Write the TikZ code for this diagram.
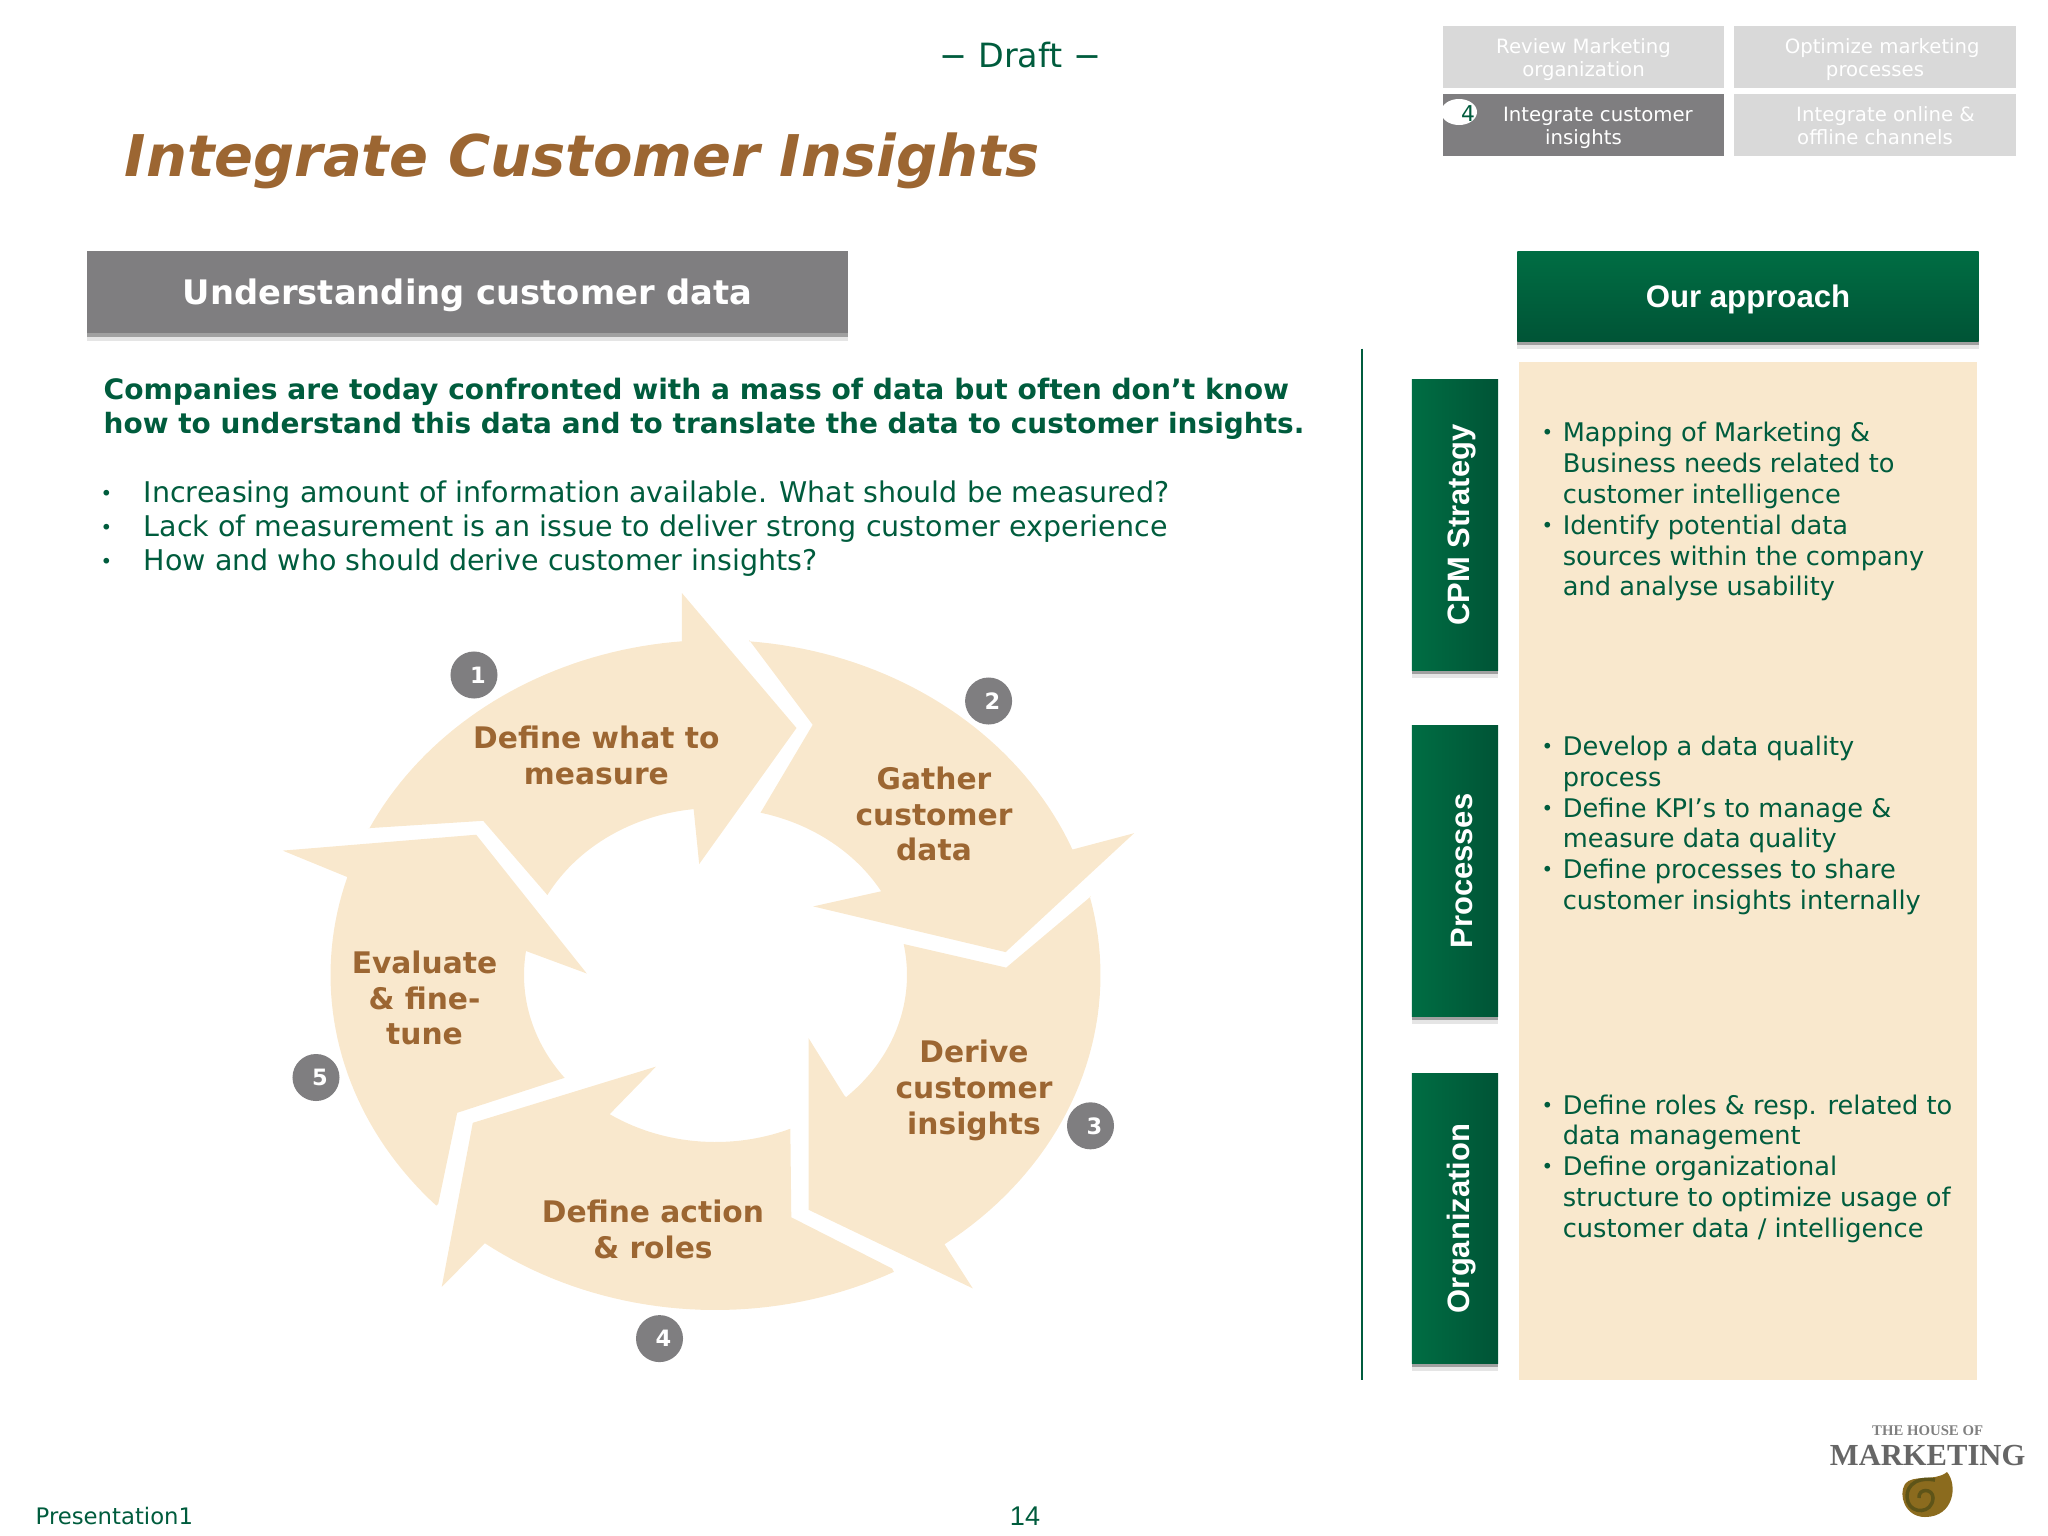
\documentclass[tikz,border=0pt]{standalone}
\usepackage{fontspec}
\setmainfont{DejaVu Sans}
\newfontfamily\arialfont{Liberation Sans}
\newfontfamily\logofont{Liberation Serif}
\usetikzlibrary{shadows}

\definecolor{housegreen}{HTML}{005C3D}
\definecolor{housebrown}{HTML}{9C6632}
\definecolor{housebeige}{HTML}{F9E8CD}
\definecolor{housegrey}{HTML}{7F7E80}
\definecolor{tablight}{HTML}{D9D9D9}
\definecolor{shadelight}{HTML}{006D43}
\definecolor{shadedark}{HTML}{005436}
\definecolor{shellbrown}{HTML}{8B6B1E}
\definecolor{shelldark}{HTML}{5E5418}

\newcommand{\bodysize}{\fontsize{8.11pt}{9.67pt}\selectfont}
\newcommand{\panelsize}{\fontsize{7.3pt}{8.75pt}\selectfont}
\newcommand{\ringsize}{\fontsize{8.45pt}{10.2pt}\selectfont}
\newcommand{\tabsize}{\fontsize{5.6pt}{6.7pt}\selectfont}
\newcommand{\tabstrut}{\rule{0pt}{5.8pt}}
\newcommand{\tabdepth}{\rule[-1.3pt]{0pt}{1.3pt}}
\newcommand{\smallbul}{\raisebox{.55pt}{\fontsize{5.6pt}{6pt}\selectfont•}}
\newcommand{\bodybul}{\makebox[11.4pt][l]{\hspace{-.9pt}\smallbul}}
\newcommand{\panelbul}{\makebox[6pt][l]{\smallbul}}
\newcommand{\panelind}{\hspace*{6pt}}

\tikzset{
    tabbox/.style={minimum width=2.81cm,minimum height=.615cm,inner sep=0,align=center,fill=tablight,text=white,font=\tabsize},
    ringlabel/.style={align=center,inner sep=0,text=housebrown,font=\ringsize\bfseries},
    ringbadge/.style={circle,fill=housegrey,minimum size=.47cm,inner sep=0,text=white,font=\fontsize{6.4pt}{7pt}\selectfont\bfseries,execute at begin node=\hspace*{2.2pt}},
    ringarrow/.style={fill=housebeige},
    softshadow/.style={drop shadow={shadow xshift=0pt,shadow yshift=-2.2pt,opacity=.1,fill=black},drop shadow={shadow xshift=0pt,shadow yshift=-1.1pt,opacity=.3,fill=black}},
    sidebox/.style={minimum width=.86cm,minimum height=2.9cm,inner sep=0,left color=shadelight,right color=shadedark,softshadow},
    paneltext/.style={anchor=north west,inner sep=0,align=left,text=housegreen,font=\panelsize},
    sidetext/.style={rotate=90,text=white,inner sep=0,yshift=-.065cm,font=\arialfont\fontsize{8.8pt}{10pt}\selectfont\bfseries}
}

\begin{document}
\begin{tikzpicture}[x=.01cm,y=-.01cm]
    \pgfmathsetmacro{\ringcx}{717}
    \pgfmathsetmacro{\ringcy}{977}
    \pgfmathsetmacro{\outerrx}{385}
    \pgfmathsetmacro{\outerry}{335}
    \pgfmathsetmacro{\innerrx}{191.5}
    \pgfmathsetmacro{\innerry}{167}
    \providecommand{\outerarc}[2]{-- plot[domain=#1:#2,samples=40] ({\ringcx+\outerrx*cos(\x)},{\ringcy+\outerry*sin(\x)})}
    \providecommand{\innerarc}[2]{-- plot[domain=#1:#2,samples=30] ({\ringcx+\innerrx*cos(\x)},{\ringcy+\innerry*sin(\x)})}
    \useasboundingbox (0,0) rectangle (2048,1536);

    \node[text=housegreen,inner sep=0,font=\fontsize{9.5pt}{11pt}\selectfont] (draft) at (1020.6,55) {− Draft −};
    \node[anchor=base west,inner sep=0,text=housebrown,font=\fontsize{16.35pt}{18pt}\selectfont\bfseries\itshape] (title) at (124,176.5) {Integrate Customer Insights};

    % top right tabs
    \node[tabbox] (tabreview) at (1583.5,57) {\tabstrut Review Marketing\\organization};
    \node[tabbox] (taboptimize) at (1875,57) {\tabstrut\hspace*{.144cm}Optimize marketing\\processes};
    \node[tabbox,fill=housegrey] (tabintegrate) at (1583.5,125) {\tabstrut\hspace*{.288cm}Integrate customer\\insights};
    \node[tabbox] (taboffline) at (1875,125) {\tabstrut\hspace*{.21cm}Integrate online \&\\offline channels\tabdepth};
    \begin{scope}
        \clip (1443,94) rectangle (1724,156);
        \fill[white] (1459,112) ellipse (18 and 13);
    \end{scope}
    \node[text=housegreen,inner sep=0,font=\fontsize{6.2pt}{7pt}\selectfont] (tabnumber) at (1468,113.6) {4};

    % left column
    \node[fill=housegrey,minimum width=7.6cm,minimum height=.82cm,inner sep=0,text depth=0pt,text=white,font=\fontsize{9.6pt}{11pt}\selectfont\bfseries,softshadow] (understanding) at (467.5,292) {Understanding customer data};
    \node[anchor=north west,inner sep=0,align=left,text=housegreen,font=\fontsize{8pt}{9.75pt}\selectfont\bfseries] (intro) at (103,377)
        {Companies are today confronted with a mass of data but often don’t know\\{\fontsize{7.95pt}{9.75pt}\selectfont how to understand this data and to translate the data to customer insights.}};
    \node[anchor=north west,inner sep=0,align=left,text=housegreen,font=\bodysize] (bullets) at (103,480)
        {\bodybul Increasing amount of information available. What should be measured?\\
         \bodybul Lack of measurement is an issue to deliver strong customer experience\\
         \bodybul How and who should derive customer insights?};

    % ring of arrows
    \begin{scope}[shift={(-1.5,-2)}]
    \fill[ringarrow] (369.4,830.2) \outerarc{206}{265} -- (683.4,642.2) -- (683.4,595) -- (798,730) -- (700.7,866) -- (694.9,808.9) \innerarc{263.5}{208.6} -- (484.7,822.8) -- cycle;
    \fill[ringarrow] (750.8,642.2) \outerarc{-85}{-22} -- (1135.6,835.2) -- (1007.1,954.1) -- (814.7,908.4) -- (882.1,893.4) \innerarc{-30}{-76.4} -- (814.2,726.8) -- cycle;
    \fill[ringarrow] (1092.4,898.4) \outerarc{-13.5}{53.5} -- (974.3,1290.4) -- (810.1,1211.8) -- (810.1,1040.2) -- (845.8,1097.4) \innerarc{47}{-10.7} -- (1007.7,969.6) -- cycle;
    \fill[ringarrow] (893.6,1270.5) \outerarc{62.4}{126.8} -- (443.2,1289) -- (474.3,1124.8) -- (657.5,1068.6) -- (612.5,1114.8) \innerarc{123.5}{67} -- (792.8,1219.3) -- cycle;
    \fill[ringarrow] (439.7,1205.9) \outerarc{136.5}{197} -- (284.2,852.6) -- (477.7,836.7) -- (588.3,975.5) -- (525,952.1) \innerarc{188.5}{142} -- (458.7,1114.8) -- cycle;
    \end{scope}

    \node[ringlabel] (measure) at (596.4,755) {Define what to\\measure};
    \node[ringlabel] (gather) at (934,814) {Gather\\customer\\data};
    \node[ringlabel] (derive) at (974,1090.5) {Derive\\customer\\insights};
    \node[ringlabel] (action) at (653,1229) {Define action\\\& roles};
    \node[ringlabel] (evaluate) at (424.5,998) {Evaluate\\\& fine-\\tune};

    \node[ringbadge] (badgeone) at (474,675) {1};
    \node[ringbadge] (badgetwo) at (988.6,701) {2};
    \node[ringbadge] (badgethree) at (1090.5,1125.8) {3};
    \node[ringbadge] (badgefour) at (659.5,1338.6) {4};
    \node[ringbadge] (badgefive) at (316,1077.5) {5};

    % right column
    \draw[housegreen,line width=.8pt] (1362,348.7) -- (1362,1380.4);
    \node[minimum width=4.61cm,minimum height=.89cm,inner sep=0,text depth=0pt,top color=shadelight,bottom color=shadedark,text=white,
        font=\arialfont\fontsize{8.87pt}{10pt}\selectfont\bfseries,softshadow] (approach) at (1748,296.5) {Our approach};
    \fill[housebeige] (1519,362) rectangle (1977,1380.4);

    \node[sidebox] (sidecpm) at (1455,525) {};
    \node[sidebox] (sideproc) at (1455,871) {};
    \node[sidebox] (sideorg) at (1455,1218.5) {};
    \node[sidetext] at (sidecpm) {CPM Strategy};
    \node[sidetext] at (sideproc) {Processes};
    \node[sidetext] at (sideorg) {Organization};

    \node[paneltext] (panelcpm) at (1541,421.7)
        {\panelbul Mapping of Marketing \&\\\panelind Business needs related to\\\panelind customer intelligence\\
         \panelbul Identify potential data\\\panelind sources within the company\\\panelind and analyse usability};
    \node[paneltext] (panelproc) at (1541,735.4)
        {\panelbul Develop a data quality\\\panelind process\\
         \panelbul Define KPI’s to manage \&\\\panelind measure data quality\\
         \panelbul Define processes to share\\\panelind customer insights internally};
    \node[paneltext] (panelorg) at (1541,1093.8)
        {\panelbul Define roles \& resp. related to\\\panelind data management\\
         \panelbul Define organizational\\\panelind structure to optimize usage of\\\panelind customer data / intelligence};

    % footer
    \node[anchor=base west,inner sep=0,text=housegreen,font=\fontsize{6.47pt}{7pt}\selectfont] (footer) at (35,1524) {Presentation1};
    \node[anchor=base,inner sep=0,text=housegreen,font=\arialfont\fontsize{7.7pt}{9pt}\selectfont] (pagenum) at (1025,1525) {14};
    \node[inner sep=0,text=black!50,font=\logofont\fontsize{4.2pt}{5pt}\selectfont\bfseries] (logotop) at (1927.6,1431) {THE HOUSE OF};
    \node[inner sep=0,text=black!60,font=\logofont\fontsize{8.7pt}{10pt}\selectfont\bfseries] (logomain) at (1927.6,1455) {MARKETING};
    \fill[shellbrown] (1947,1472) .. controls (1958,1485) and (1954,1517) .. (1925,1517) .. controls (1905,1517) and (1898,1495) .. (1905,1484) .. controls (1912,1474) and (1935,1482) .. (1947,1472) -- cycle;
    \draw[shelldark,line width=1pt] (1935,1480) .. controls (1912,1476) and (1904,1490) .. (1908,1502) .. controls (1912,1514) and (1932,1514) .. (1933,1498) .. controls (1933,1488) and (1918,1488) .. (1919,1498);
\end{tikzpicture}
\end{document}
